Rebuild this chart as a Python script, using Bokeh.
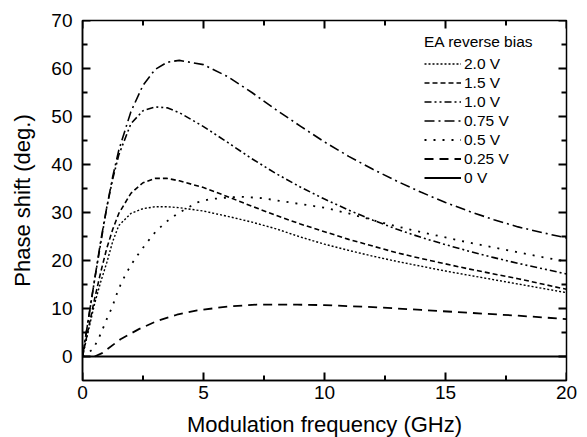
from bokeh.plotting import figure
from bokeh.models import Range1d, FixedTicker, Legend, LegendItem, ColumnDataSource
from bokeh.embed import file_html
from bokeh.resources import INLINE

# ---- data ----
freq = [0, 0.25, 0.5, 0.75, 1, 1.25, 1.5, 2, 2.5, 3, 3.5, 4, 5, 6, 7, 8, 9, 10,
        11, 12, 13, 14, 15, 16, 17, 18, 19, 20]
phase_2v0 = [0, 5.5, 11, 15.5, 19.5, 24, 27.3, 29.8, 30.8, 31.2, 31.2, 31.0, 30.3, 29.2,
             28.0, 26.6, 24.9, 23.4, 22.1, 20.9, 19.8, 18.8, 17.8, 16.9, 16.0, 15.1, 14.2, 13.3]
phase_1v5 = [0, 6, 12, 17.5, 22.5, 26.5, 29.8, 34.0, 36.2, 37.1, 37.1, 36.6, 35.2, 33.3,
             31.3, 29.4, 27.6, 26.0, 24.4, 23.0, 21.6, 20.4, 19.3, 18.2, 17.2, 16.2, 15.1, 14.0]
phase_1v0 = [0, 8, 16, 23.5, 31, 37, 42, 48.5, 51.2, 52.0, 51.8, 50.8, 47.9, 44.6,
             41.2, 38.1, 35.3, 32.8, 30.5, 28.4, 26.5, 24.8, 23.3, 21.9, 20.6, 19.4, 18.3, 17.2]
phase_0v75 = [0, 8, 16, 24, 31, 37.5, 43, 51, 56.5, 59.8, 61.3, 61.7, 60.8, 58.3,
              55.0, 51.4, 48.0, 44.7, 41.7, 39.0, 36.5, 34.2, 32.1, 30.2, 28.5, 27.0, 25.8, 24.7]

freq_0v5 = [0, 0.43, 0.67, 0.85, 1.02, 1.23, 1.39, 1.57, 1.8, 2.05, 2.33, 2.64, 3.02, 3.47,
            3.91, 4.74, 5.3, 6.5, 7.4, 8.7, 10, 11, 12, 13, 14, 15, 16, 17, 18, 19, 20]
phase_0v5 = [0, 1.5, 3.8, 5.9, 8.0, 10.3, 12.7, 14.9, 17.3, 19.4, 21.5, 23.6, 26.0, 28.1,
             29.7, 32.1, 32.8, 33.3, 33.0, 32.0, 31.0, 29.8, 28.4, 27.1, 25.9, 24.8, 23.7,
             22.7, 21.7, 20.7, 19.8]

freq_0v25 = [0.5, 0.81, 1.57, 2.33, 3.08, 3.9, 4.74, 5.98, 7.2, 8.87, 10, 12, 14, 16, 18, 20]
phase_0v25 = [0, 0.7, 3.6, 5.7, 7.4, 8.7, 9.6, 10.4, 10.8, 10.8, 10.7, 10.3, 9.7, 9.1, 8.5, 7.8]

freq_0v = [0, 20]
phase_0v = [0, 0]

# axis extents and ticks
x_lo, x_hi = 0, 20
y_lo, y_hi = -5, 70
x_major = [0, 5, 10, 15, 20]
x_minor = [2.5, 7.5, 12.5, 17.5]
y_major = [0, 10, 20, 30, 40, 50, 60, 70]
y_minor = [5, 15, 25, 35, 45, 55, 65]

FONT = "Liberation Sans"
FW, FH = 484, 360            # frame size in px
MAJOR_PX, MINOR_PX = 8, 5    # inward tick lengths in px

p = figure(frame_width=FW, frame_height=FH, output_backend="svg", toolbar_location=None,
           x_range=Range1d(x_lo, x_hi), y_range=Range1d(y_lo, y_hi),
           min_border_left=82, min_border_right=12, min_border_top=20, min_border_bottom=55,
           x_axis_label="Modulation frequency (GHz)", y_axis_label="Phase shift (deg.)")
p.grid.visible = False
p.outline_line_color = "black"
p.outline_line_width = 1.5

for ax, ticks in ((p.xaxis[0], x_major), (p.yaxis[0], y_major)):
    ax.ticker = FixedTicker(ticks=ticks)
    ax.axis_line_color = "black"
    ax.axis_line_width = 1.5
    ax.major_tick_in = 0
    ax.major_tick_out = 0
    ax.minor_tick_in = 0
    ax.minor_tick_out = 0
    ax.major_label_text_font = FONT
    ax.major_label_text_font_size = "19px"
    ax.major_label_text_color = "black"
    ax.axis_label_text_font = FONT
    ax.axis_label_text_font_size = "22px"
    ax.axis_label_text_font_style = "normal"
    ax.axis_label_text_color = "black"
p.xaxis[0].major_label_standoff = 5
p.xaxis[0].axis_label_standoff = 10
p.yaxis[0].major_label_standoff = 10
p.yaxis[0].axis_label_standoff = 13

# inward ticks on all four sides, lengths converted from px to data units
dx_per_px = (x_hi - x_lo) / FW
dy_per_px = (y_hi - y_lo) / FH
x0s, y0s, x1s, y1s = [], [], [], []
for vals, px in ((x_major, MAJOR_PX), (x_minor, MINOR_PX)):
    d = px * dy_per_px
    for t in vals:
        x0s += [t, t]
        x1s += [t, t]
        y0s += [y_lo, y_hi]
        y1s += [y_lo + d, y_hi - d]
for vals, px in ((y_major, MAJOR_PX), (y_minor, MINOR_PX)):
    d = px * dx_per_px
    for t in vals:
        x0s += [x_lo, x_hi]
        x1s += [x_lo + d, x_hi - d]
        y0s += [t, t]
        y1s += [t, t]
tick_src = ColumnDataSource(dict(x0=x0s, y0=y0s, x1=x1s, y1=y1s))
p.segment(x0="x0", y0="y0", x1="x1", y1="y1", source=tick_src,
          line_color="black", line_width=2)

series = [
    ("2.0 V", freq, phase_2v0, "2 2", 1.4),
    ("1.5 V", freq, phase_1v5, "5 3", 1.6),
    ("1.0 V", freq, phase_1v0, "7 3 2 3 2 3", 1.6),
    ("0.75 V", freq, phase_0v75, "10 4 2 4", 1.6),
    ("0.5 V", freq_0v5, phase_0v5, "2 7", 1.8),
    ("0.25 V", freq_0v25, phase_0v25, "9 6", 1.8),
    ("0 V", freq_0v, phase_0v, "solid", 2.0),
]
items = []
for label, xs, ys, dash, lw in series:
    r = p.line(xs, ys, line_color="black", line_width=lw, line_dash=dash,
               line_join="round")
    items.append(LegendItem(label=label, renderers=[r]))

legend = Legend(items=items, location=(342, 193), title="EA reverse bias")
legend.border_line_color = None
legend.background_fill_alpha = 0
legend.padding = 0
legend.spacing = 0
legend.margin = 0
legend.glyph_width = 37
legend.glyph_height = 19
legend.label_height = 19
legend.label_standoff = 3
legend.label_text_font = FONT
legend.label_text_font_size = "15.5px"
legend.label_text_color = "black"
legend.title_text_font = FONT
legend.title_text_font_size = "15.5px"
legend.title_text_font_style = "normal"
legend.title_text_color = "black"
legend.title_standoff = 3
p.add_layout(legend, "center")

open("out.html", "w").write(file_html(p, INLINE))
